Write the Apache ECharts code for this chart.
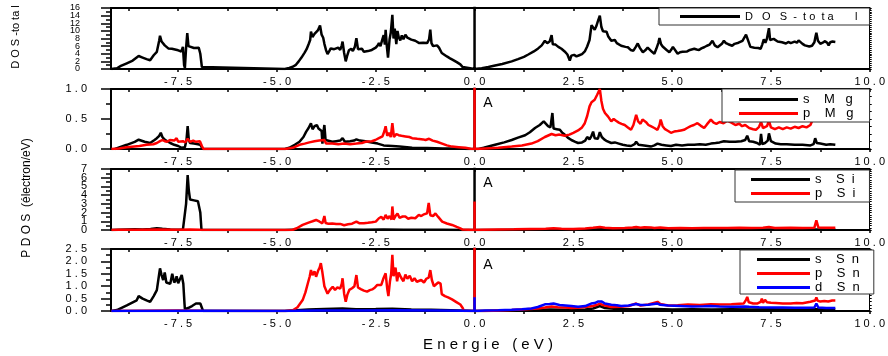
<!DOCTYPE html>
<html><head><meta charset="utf-8">
<script src="https://cdn.jsdelivr.net/npm/echarts@6/dist/echarts.min.js"></script>
<style>html,body{margin:0;padding:0;background:#fff}#c{width:888px;height:356px}</style>
</head><body><div id="c"></div>
<script>
// ---------- data (energy in eV, DOS in states/eV) ----------
const xTickValues = [-8.75,-7.5,-6.25,-5,-3.75,-2.5,-1.25,0,1.25,2.5,3.75,5,6.25,7.5,8.75,10];
const xLabelValues = [-7.5,-5,-2.5,0,2.5,5,7.5,10];

const dosTotal = [[-9.19,0],[-9.05,0.2],[-8.95,0.8],[-8.8,1.5],[-8.65,2.2],[-8.5,3.4],[-8.4,3.0],[-8.3,2.6],[-8.21,2.3],[-8.12,3.6],[-8.04,4.5],[-7.98,7.5],[-7.96,8.7],[-7.92,7.2],[-7.88,7.6],[-7.84,6.2],[-7.8,6.4],[-7.75,5.4],[-7.7,5.8],[-7.66,5.3],[-7.62,5.5],[-7.58,5.1],[-7.54,5.6],[-7.5,4.9],[-7.46,5.3],[-7.42,4.6],[-7.38,5.8],[-7.35,1.0],[-7.33,0.3],[-7.3,5.5],[-7.27,9.4],[-7.24,6.0],[-7.2,5.6],[-7.1,5.5],[-7.05,5.7],[-6.98,5.6],[-6.94,4.0],[-6.9,0.5],[-6.86,0],
[-4.8,0],[-4.69,0.3],[-4.6,0.6],[-4.52,1.1],[-4.45,2.0],[-4.38,3.0],[-4.3,4.3],[-4.25,5.2],[-4.2,6.5],[-4.16,7.6],[-4.14,9.8],[-4.1,8.4],[-4.05,9.2],[-4.0,8.7],[-3.96,10.2],[-3.91,11.4],[-3.87,9.0],[-3.83,8.2],[-3.8,6.6],[-3.76,5.0],[-3.72,3.9],[-3.68,4.6],[-3.64,5.4],[-3.6,4.9],[-3.55,5.2],[-3.5,4.7],[-3.45,5.6],[-3.4,5.0],[-3.36,6.2],[-3.34,7.2],[-3.3,4.2],[-3.26,2.0],[-3.22,3.6],[-3.18,4.9],[-3.12,5.3],[-3.08,4.7],[-3.03,5.8],[-2.99,8.1],[-2.95,5.2],[-2.9,4.9],[-2.85,5.3],[-2.8,4.5],[-2.75,4.3],[-2.7,4.7],[-2.65,4.5],[-2.6,5.0],[-2.55,4.8],[-2.5,5.6],[-2.45,6.2],[-2.42,6.8],[-2.38,6.0],[-2.34,7.5],[-2.3,8.9],[-2.27,6.4],[-2.25,10.3],[-2.22,6.0],[-2.19,3.0],[-2.15,7.8],[-2.12,9.5],[-2.08,14.2],[-2.05,8.0],[-2.02,10.6],[-1.98,6.5],[-1.95,10.0],[-1.92,8.4],[-1.88,7.5],[-1.84,8.8],[-1.8,7.8],[-1.75,9.0],[-1.7,8.2],[-1.65,8.6],[-1.6,7.7],[-1.55,8.0],[-1.5,7.4],[-1.45,7.8],[-1.4,6.8],[-1.35,7.3],[-1.3,6.9],[-1.25,7.4],[-1.2,6.8],[-1.15,7.8],[-1.12,10.3],[-1.09,6.8],[-1.05,6.0],[-1.0,5.9],[-0.95,6.2],[-0.9,5.6],[-0.86,5.9],[-0.83,4.2],[-0.78,3.7],[-0.7,3.3],[-0.62,2.8],[-0.55,2.4],[-0.45,1.8],[-0.36,1.2],[-0.3,0.5],[-0.26,0],
[0,0],[0,100],[0,0],
[0.05,0],[0.18,0.2],[0.35,0.5],[0.52,0.9],[0.7,1.3],[0.94,2.0],[1.1,2.6],[1.25,3.2],[1.36,3.8],[1.5,4.6],[1.61,5.4],[1.7,6.2],[1.78,7.4],[1.84,6.8],[1.9,7.2],[1.95,8.9],[1.98,6.5],[2.05,6.4],[2.12,5.8],[2.2,5.3],[2.28,4.6],[2.35,3.8],[2.41,2.2],[2.45,3.5],[2.52,3.7],[2.58,3.3],[2.65,3.6],[2.72,3.9],[2.79,4.6],[2.85,5.9],[2.91,7.6],[2.96,11.5],[3.0,12.0],[3.04,10.3],[3.08,11.2],[3.12,12.5],[3.17,14.0],[3.21,11.0],[3.25,9.9],[3.3,9.4],[3.34,9.8],[3.38,8.6],[3.42,8.0],[3.46,7.4],[3.5,7.9],[3.55,7.6],[3.6,6.8],[3.65,6.4],[3.71,6.1],[3.76,6.6],[3.82,5.8],[3.88,5.7],[3.95,5.0],[4.02,4.8],[4.08,5.8],[4.13,6.7],[4.18,5.6],[4.22,5.0],[4.26,4.4],[4.32,4.9],[4.38,5.6],[4.43,5.3],[4.49,4.5],[4.55,4.0],[4.6,5.3],[4.65,6.8],[4.68,8.1],[4.72,6.5],[4.76,5.9],[4.8,5.6],[4.86,5.0],[4.93,4.4],[4.98,5.1],[5.02,5.8],[5.06,5.3],[5.1,4.6],[5.14,4.0],[5.2,4.4],[5.26,4.5],[5.31,4.8],[5.38,4.6],[5.45,5.0],[5.5,4.8],[5.56,5.3],[5.62,5.1],[5.68,5.0],[5.74,5.4],[5.81,5.7],[5.88,6.1],[5.95,6.4],[6.02,7.4],[6.08,6.2],[6.15,5.7],[6.2,6.0],[6.26,6.6],[6.31,7.4],[6.36,6.8],[6.42,6.5],[6.47,6.9],[6.52,6.1],[6.58,6.6],[6.63,6.4],[6.68,6.9],[6.73,7.0],[6.78,7.4],[6.83,7.8],[6.87,9.0],[6.9,9.5],[6.94,7.0],[6.98,5.8],[7.03,5.3],[7.08,5.6],[7.13,5.2],[7.18,5.5],[7.24,5.3],[7.28,6.4],[7.32,7.8],[7.36,6.9],[7.4,8.0],[7.45,10.7],[7.48,7.6],[7.52,7.3],[7.57,7.9],[7.62,7.8],[7.67,7.2],[7.72,7.6],[7.78,7.0],[7.83,7.0],[7.88,6.7],[7.94,7.1],[8.0,6.8],[8.04,7.0],[8.1,7.2],[8.16,6.9],[8.2,7.5],[8.24,7.3],[8.3,6.6],[8.36,6.2],[8.41,5.7],[8.47,5.9],[8.54,6.1],[8.6,7.0],[8.63,8.6],[8.65,9.5],[8.69,7.4],[8.75,6.6],[8.81,6.9],[8.87,7.3],[8.93,6.8],[8.96,6.2],[9.0,7.0],[9.06,7.2],[9.1,6.9],[9.13,7.1]];

const sMg = [[-9.1,0],[-9.05,0.02],[-8.8,0.07],[-8.6,0.12],[-8.5,0.155],[-8.35,0.12],[-8.21,0.1],[-8.1,0.15],[-8.04,0.18],[-7.98,0.22],[-7.94,0.27],[-7.9,0.2],[-7.85,0.16],[-7.78,0.13],[-7.7,0.1],[-7.6,0.07],[-7.5,0.05],[-7.41,0.02],[-7.33,0.03],[-7.29,0.15],[-7.26,0.38],[-7.23,0.15],[-7.2,0.1],[-7.1,0.09],[-7.0,0.08],[-6.94,0.07],[-6.88,0],
[-4.8,0],[-4.69,0.02],[-4.55,0.07],[-4.43,0.12],[-4.33,0.2],[-4.26,0.29],[-4.2,0.35],[-4.14,0.43],[-4.1,0.33],[-4.05,0.38],[-3.99,0.4],[-3.95,0.34],[-3.9,0.37],[-3.87,0.3],[-3.85,0.09],[-3.82,0.3],[-3.8,0.4],[-3.77,0.15],[-3.72,0.13],[-3.6,0.12],[-3.5,0.13],[-3.4,0.14],[-3.34,0.18],[-3.28,0.12],[-3.15,0.13],[-3.05,0.14],[-2.99,0.16],[-2.9,0.14],[-2.76,0.13],[-2.6,0.11],[-2.45,0.09],[-2.3,0.06],[-2.08,0.05],[-1.9,0.04],[-1.58,0.02],[-1.2,0.015],[-0.8,0.01],[-0.3,0.01],[-0.2,0],
[0,0],[0,100],[0,0],
[0.1,0],[0.23,0.02],[0.52,0.07],[0.75,0.11],[0.94,0.15],[1.1,0.19],[1.28,0.23],[1.4,0.28],[1.53,0.35],[1.65,0.4],[1.75,0.46],[1.8,0.43],[1.86,0.38],[1.92,0.36],[1.97,0.6],[2.0,0.34],[2.08,0.33],[2.16,0.32],[2.22,0.27],[2.28,0.24],[2.36,0.19],[2.45,0.15],[2.55,0.12],[2.62,0.1],[2.72,0.11],[2.8,0.14],[2.85,0.2],[2.91,0.16],[2.96,0.22],[3.0,0.29],[3.04,0.18],[3.08,0.21],[3.12,0.17],[3.17,0.28],[3.22,0.2],[3.28,0.16],[3.35,0.13],[3.46,0.1],[3.55,0.11],[3.65,0.09],[3.75,0.07],[3.85,0.06],[3.96,0.05],[4.05,0.08],[4.09,0.12],[4.15,0.07],[4.29,0.06],[4.38,0.05],[4.46,0.04],[4.55,0.06],[4.63,0.09],[4.68,0.12],[4.73,0.07],[4.85,0.06],[4.97,0.05],[5.1,0.07],[5.25,0.06],[5.4,0.07],[5.56,0.07],[5.7,0.08],[5.85,0.07],[5.98,0.09],[6.1,0.1],[6.2,0.11],[6.31,0.13],[6.45,0.12],[6.6,0.12],[6.75,0.13],[6.85,0.15],[6.9,0.22],[6.95,0.13],[7.05,0.12],[7.15,0.1],[7.22,0.07],[7.25,0.25],[7.28,0.08],[7.35,0.1],[7.42,0.14],[7.45,0.26],[7.5,0.13],[7.55,0.11],[7.62,0.09],[7.75,0.08],[7.9,0.08],[8.1,0.07],[8.3,0.07],[8.5,0.06],[8.58,0.08],[8.62,0.18],[8.66,0.1],[8.75,0.09],[8.9,0.07],[9.0,0.08],[9.13,0.07]];

const pMg = [[-9.19,0],[-9.0,0.01],[-8.8,0.03],[-8.48,0.05],[-8.3,0.07],[-8.13,0.08],[-8.04,0.1],[-7.96,0.13],[-7.9,0.15],[-7.84,0.13],[-7.78,0.12],[-7.71,0.15],[-7.66,0.12],[-7.6,0.14],[-7.54,0.18],[-7.5,0.12],[-7.45,0.15],[-7.38,0.13],[-7.32,0.11],[-7.26,0.17],[-7.2,0.12],[-7.12,0.14],[-7.05,0.12],[-6.95,0.13],[-6.9,0.05],[-6.86,0],
[-4.8,0],[-4.6,0.02],[-4.43,0.07],[-4.3,0.09],[-4.18,0.11],[-4.05,0.13],[-3.93,0.14],[-3.8,0.15],[-3.76,0.09],[-3.6,0.09],[-3.45,0.08],[-3.3,0.09],[-3.15,0.08],[-2.99,0.09],[-2.85,0.1],[-2.76,0.12],[-2.6,0.13],[-2.51,0.15],[-2.42,0.18],[-2.33,0.21],[-2.28,0.3],[-2.25,0.38],[-2.21,0.22],[-2.17,0.27],[-2.12,0.2],[-2.08,0.43],[-2.04,0.2],[-1.98,0.25],[-1.92,0.23],[-1.85,0.22],[-1.75,0.21],[-1.65,0.2],[-1.58,0.18],[-1.45,0.17],[-1.3,0.16],[-1.24,0.15],[-1.15,0.17],[-1.12,0.2],[-1.06,0.14],[-0.95,0.12],[-0.82,0.09],[-0.7,0.06],[-0.57,0.04],[-0.4,0.03],[-0.23,0.02],[-0.1,0.005],
[0,0],[0,100],[0,0],
[0.27,0.01],[0.6,0.02],[0.94,0.04],[1.2,0.06],[1.44,0.09],[1.6,0.13],[1.78,0.2],[1.95,0.25],[2.05,0.23],[2.15,0.24],[2.28,0.22],[2.4,0.24],[2.5,0.27],[2.62,0.31],[2.72,0.36],[2.79,0.43],[2.85,0.55],[2.91,0.71],[2.96,0.78],[3.04,0.82],[3.1,0.9],[3.17,1.0],[3.21,0.8],[3.25,0.67],[3.3,0.6],[3.38,0.54],[3.46,0.46],[3.52,0.5],[3.58,0.47],[3.65,0.44],[3.72,0.42],[3.8,0.4],[3.88,0.36],[3.96,0.32],[4.02,0.4],[4.09,0.57],[4.14,0.46],[4.2,0.42],[4.25,0.49],[4.29,0.52],[4.35,0.44],[4.4,0.4],[4.46,0.38],[4.55,0.35],[4.63,0.32],[4.68,0.4],[4.71,0.49],[4.76,0.38],[4.82,0.33],[4.9,0.3],[4.97,0.27],[5.05,0.29],[5.14,0.3],[5.22,0.31],[5.3,0.32],[5.38,0.35],[5.47,0.38],[5.55,0.4],[5.64,0.43],[5.72,0.39],[5.81,0.35],[5.88,0.41],[5.98,0.49],[6.05,0.44],[6.12,0.42],[6.2,0.45],[6.3,0.43],[6.4,0.47],[6.5,0.44],[6.6,0.4],[6.7,0.42],[6.77,0.38],[6.85,0.4],[6.95,0.35],[7.05,0.33],[7.12,0.32],[7.2,0.37],[7.25,0.45],[7.3,0.35],[7.4,0.38],[7.45,0.47],[7.5,0.36],[7.6,0.33],[7.7,0.36],[7.8,0.33],[7.9,0.36],[8.0,0.34],[8.1,0.37],[8.2,0.35],[8.3,0.38],[8.4,0.36],[8.5,0.4],[8.55,0.48],[8.58,0.57],[8.62,0.5],[8.7,0.5],[8.8,0.52],[8.9,0.5],[9.0,0.55],[9.13,0.52]];

const sSi = [[-9.19,0],[-9.0,0.03],[-8.8,0.06],[-8.6,0.08],[-8.4,0.07],[-8.2,0.12],[-8.04,0.2],[-7.9,0.14],[-7.7,0.06],[-7.5,0.04],[-7.38,0.05],[-7.33,0.1],[-7.3,3.0],[-7.26,6.3],[-7.23,4.5],[-7.2,3.5],[-7.15,3.3],[-7.1,3.4],[-7.05,3.2],[-7.0,3.3],[-6.97,3.5],[-6.94,2.0],[-6.91,0],
[-4.8,0],[-4.6,0.02],[-4.2,0.05],[-3.8,0.06],[-3.3,0.05],[-2.8,0.04],[-2.3,0.05],[-1.8,0.04],[-1.3,0.03],[-0.8,0.02],[-0.3,0.01],[-0.1,0],
[0,0],[0,100],[0,0],
[0.1,0],[0.5,0.01],[1.0,0.03],[1.5,0.05],[2.0,0.07],[2.5,0.05],[3.0,0.07],[3.2,0.1],[3.5,0.06],[4.0,0.05],[4.5,0.06],[5.0,0.05],[5.5,0.06],[6.0,0.05],[6.5,0.06],[7.0,0.06],[7.5,0.05],[8.0,0.06],[8.5,0.05],[9.13,0.05]];

const pSi = [[-9.19,0],[-9.0,0.02],[-8.5,0.04],[-8.0,0.05],[-7.5,0.04],[-7.2,0.05],[-6.95,0.04],[-6.9,0],
[-4.8,0],[-4.6,0.03],[-4.5,0.2],[-4.35,0.58],[-4.2,0.85],[-4.1,1.0],[-4.01,1.15],[-3.92,0.95],[-3.85,0.77],[-3.8,1.6],[-3.77,0.8],[-3.7,0.72],[-3.6,0.75],[-3.5,0.68],[-3.4,0.7],[-3.3,0.55],[-3.26,0.38],[-3.2,0.65],[-3.1,0.72],[-3.05,0.8],[-2.99,0.96],[-2.92,0.78],[-2.8,0.77],[-2.7,0.82],[-2.6,0.88],[-2.5,0.96],[-2.42,1.35],[-2.36,1.5],[-2.3,1.2],[-2.25,1.73],[-2.2,1.3],[-2.15,1.6],[-2.1,1.2],[-2.08,2.7],[-2.05,1.2],[-2.0,1.6],[-1.95,1.9],[-1.9,1.4],[-1.82,1.55],[-1.75,1.54],[-1.68,1.3],[-1.6,1.4],[-1.5,1.35],[-1.41,1.73],[-1.35,1.6],[-1.28,1.8],[-1.2,1.92],[-1.16,3.1],[-1.12,1.7],[-1.05,1.6],[-0.99,1.9],[-0.92,1.5],[-0.82,0.96],[-0.7,0.75],[-0.57,0.58],[-0.45,0.35],[-0.36,0.19],[-0.3,0.05],[-0.25,0],
[0,0],[0,3.27],[0,0],
[0.2,0.02],[0.6,0.05],[1.0,0.08],[1.4,0.12],[1.8,0.15],[2.0,0.2],[2.2,0.15],[2.5,0.12],[2.8,0.18],[3.0,0.25],[3.17,0.35],[3.3,0.25],[3.5,0.2],[3.8,0.22],[4.0,0.3],[4.09,0.35],[4.2,0.27],[4.3,0.32],[4.46,0.3],[4.55,0.22],[4.7,0.28],[4.9,0.2],[5.2,0.22],[5.5,0.2],[5.8,0.22],[6.1,0.24],[6.4,0.22],[6.7,0.25],[7.0,0.22],[7.3,0.25],[7.45,0.35],[7.6,0.24],[8.0,0.25],[8.3,0.24],[8.6,0.27],[8.65,1.1],[8.7,0.3],[8.9,0.26],[9.13,0.25]];

const sSn = [[-9.19,0],[-9.05,0.04],[-8.8,0.23],[-8.55,0.43],[-8.5,0.6],[-8.4,0.5],[-8.3,0.43],[-8.21,0.37],[-8.12,0.6],[-8.04,0.84],[-7.98,1.5],[-7.96,1.72],[-7.92,1.45],[-7.88,1.25],[-7.84,1.55],[-7.8,1.15],[-7.75,1.2],[-7.7,1.1],[-7.65,1.5],[-7.6,1.15],[-7.56,1.25],[-7.54,1.4],[-7.5,1.12],[-7.46,1.2],[-7.41,1.45],[-7.37,1.1],[-7.34,0.3],[-7.33,0.07],[-7.25,0.12],[-7.15,0.2],[-7.05,0.3],[-7.0,0.37],[-6.94,0.3],[-6.87,0],
[-4.8,0],[-4.6,0.02],[-4.2,0.06],[-3.8,0.08],[-3.34,0.1],[-3.0,0.07],[-2.5,0.08],[-2.08,0.09],[-1.6,0.06],[-1.1,0.05],[-0.6,0.03],[-0.2,0.01],
[0,0],[0,100],[0,0],
[0.2,0],[0.8,0.02],[1.5,0.04],[1.9,0.06],[2.3,0.05],[2.8,0.06],[3.0,0.1],[3.17,0.2],[3.3,0.12],[3.6,0.08],[4.0,0.07],[4.6,0.08],[5.0,0.06],[5.5,0.07],[6.0,0.06],[6.5,0.07],[7.0,0.06],[7.5,0.07],[8.0,0.06],[8.6,0.07],[9.13,0.06]];

const pSn = [[-9.19,0],[-8.5,0.01],[-7.5,0.02],[-6.9,0.01],[-4.8,0],[-4.6,0.03],[-4.48,0.15],[-4.35,0.44],[-4.28,0.75],[-4.22,1.11],[-4.17,1.4],[-4.14,1.65],[-4.1,1.45],[-4.05,1.6],[-4.01,1.38],[-3.96,1.62],[-3.92,1.75],[-3.89,1.93],[-3.85,1.55],[-3.8,1.0],[-3.76,0.85],[-3.72,0.7],[-3.66,0.85],[-3.59,0.98],[-3.53,0.85],[-3.47,0.95],[-3.4,0.9],[-3.36,1.1],[-3.34,1.32],[-3.3,0.7],[-3.26,0.37],[-3.22,0.65],[-3.17,0.85],[-3.1,0.92],[-3.04,1.0],[-2.99,1.45],[-2.95,0.95],[-2.88,0.88],[-2.8,0.82],[-2.72,0.78],[-2.65,0.84],[-2.59,0.87],[-2.52,0.95],[-2.46,1.05],[-2.42,1.13],[-2.36,1.05],[-2.31,1.3],[-2.25,1.52],[-2.21,0.9],[-2.18,0.6],[-2.14,1.2],[-2.11,1.5],[-2.08,2.27],[-2.05,1.4],[-2.0,1.75],[-1.96,1.2],[-1.92,1.55],[-1.86,1.35],[-1.8,1.2],[-1.75,1.47],[-1.7,1.3],[-1.64,1.42],[-1.58,1.2],[-1.52,1.32],[-1.46,1.18],[-1.41,1.2],[-1.35,1.25],[-1.28,1.15],[-1.22,1.3],[-1.16,1.35],[-1.12,1.65],[-1.08,1.25],[-1.03,1.0],[-0.98,1.05],[-0.92,1.15],[-0.86,1.1],[-0.83,0.68],[-0.75,0.6],[-0.67,0.55],[-0.57,0.47],[-0.46,0.36],[-0.36,0.26],[-0.3,0.12],[-0.27,0.0],
[0,0],[0,100],[0,0],
[0.27,0],[0.6,0.02],[0.94,0.04],[1.3,0.07],[1.6,0.1],[1.78,0.14],[1.95,0.18],[2.1,0.15],[2.3,0.14],[2.45,0.12],[2.62,0.13],[2.8,0.16],[3.0,0.2],[3.1,0.25],[3.17,0.3],[3.25,0.24],[3.46,0.16],[3.7,0.17],[3.9,0.2],[4.09,0.3],[4.2,0.22],[4.4,0.26],[4.63,0.37],[4.7,0.28],[4.9,0.22],[5.14,0.23],[5.4,0.26],[5.7,0.24],[5.98,0.27],[6.2,0.26],[6.5,0.27],[6.81,0.3],[6.87,0.45],[6.9,0.57],[6.94,0.35],[7.05,0.3],[7.15,0.3],[7.24,0.37],[7.27,0.5],[7.3,0.33],[7.35,0.45],[7.4,0.35],[7.5,0.33],[7.62,0.32],[7.8,0.3],[8.0,0.3],[8.15,0.32],[8.3,0.31],[8.5,0.37],[8.62,0.42],[8.65,0.55],[8.68,0.42],[8.75,0.38],[8.85,0.4],[8.95,0.38],[9.05,0.42],[9.13,0.42]];

const dSn = [[-9.19,0],[-7,0.01],[-4.8,0],[-4.0,0.02],[-3.0,0.02],[-2.0,0.03],[-1.0,0.02],[-0.2,0.01],
[0,0],[0,0.55],[0,0],
[0.27,0.02],[0.6,0.03],[0.94,0.05],[1.2,0.07],[1.44,0.1],[1.6,0.16],[1.78,0.27],[1.9,0.28],[1.95,0.35],[2.0,0.3],[2.15,0.24],[2.3,0.22],[2.45,0.2],[2.62,0.17],[2.8,0.2],[2.95,0.3],[3.04,0.32],[3.12,0.38],[3.17,0.46],[3.22,0.38],[3.3,0.3],[3.46,0.25],[3.6,0.23],[3.71,0.2],[3.9,0.22],[4.09,0.28],[4.2,0.24],[4.4,0.25],[4.63,0.3],[4.7,0.25],[4.9,0.22],[5.2,0.2],[5.5,0.18],[5.8,0.19],[5.98,0.2],[6.2,0.18],[6.5,0.17],[6.85,0.18],[6.9,0.25],[6.95,0.17],[7.2,0.15],[7.5,0.14],[7.8,0.14],[8.1,0.13],[8.4,0.13],[8.6,0.14],[8.65,0.3],[8.7,0.14],[8.9,0.12],[9.13,0.12]];

// ---------- layout ----------
const FONT = "'Liberation Sans', Arial, sans-serif";
const spaced = s => String(s).split('').join(' ');
const panels = [
  {top: 8, height: 61, yMax: 16, yInt: 2, fmt: v => String(v), ySize: 9, yFont: "'Liberation Sans Narrow', 'Liberation Sans', sans-serif", yMargin: 31},
  {top: 89, height: 60, yMax: 1, yInt: 0.5, fmt: v => spaced(v.toFixed(1)), ySize: 11, yFont: FONT, yMargin: 24},
  {top: 169, height: 61, yMax: 7, yInt: 1, fmt: v => String(v), ySize: 11, yFont: FONT, yMargin: 24},
  {top: 249, height: 62, yMax: 2.5, yInt: 0.5, fmt: v => spaced(v.toFixed(1)), ySize: 11, yFont: FONT, yMargin: 24}
];
const X_MIN = -9.2, X_MAX = 10;

const grid = [], xAxis = [], yAxis = [];
panels.forEach((p, i) => {
  grid.push({left: 111, right: 15, top: p.top, height: p.height});
  xAxis.push({type: 'value', gridIndex: i, min: X_MIN, max: X_MAX, position: 'bottom',
    axisLine: {onZero: false, lineStyle: {color: '#000', width: 2}},
    axisTick: {customValues: xTickValues, length: 3, lineStyle: {color: '#000', width: 1.5}},
    axisLabel: {customValues: xLabelValues, formatter: v => spaced(v.toFixed(1)), color: '#000', fontSize: 11, fontFamily: FONT, margin: 7, showMinLabel: true, showMaxLabel: true, hideOverlap: false},
    splitLine: {show: false}});
  xAxis.push({type: 'value', gridIndex: i, min: X_MIN, max: X_MAX, position: 'top',
    axisLine: {onZero: false, lineStyle: {color: '#000', width: 2}},
    axisTick: {customValues: xTickValues, inside: true, length: 3, lineStyle: {color: '#000', width: 1.5}},
    axisLabel: {show: false}, splitLine: {show: false}});
  const lbl = {formatter: p.fmt, color: '#000', fontSize: p.ySize, fontFamily: p.yFont, margin: p.yMargin, hideOverlap: false};
  // left axis: line, ticks, inner labels (end labels drawn by the helper axis below)
  yAxis.push({type: 'value', gridIndex: i, min: 0, max: p.yMax, interval: p.yInt, position: 'left',
    axisLine: {show: true, onZero: false, lineStyle: {color: '#000', width: 2}},
    axisTick: {show: true, length: 10, lineStyle: {color: '#000', width: 1.5}},
    minorTick: {show: true, splitNumber: 2, length: 5, lineStyle: {color: '#000', width: 1.5}},
    axisLabel: Object.assign({}, lbl, {showMinLabel: false, showMaxLabel: false}),
    splitLine: {show: false}, minorSplitLine: {show: false}});
  yAxis.push({type: 'value', gridIndex: i, min: 0, max: p.yMax, interval: p.yInt, position: 'right',
    axisLine: {show: true, onZero: false, lineStyle: {color: '#000', width: 1}},
    axisTick: {show: true, length: 2, lineStyle: {color: '#000', width: 1}},
    minorTick: {show: true, splitNumber: 4, length: 2, lineStyle: {color: '#000', width: 1}},
    axisLabel: {show: false}, splitLine: {show: false}});
  // helper left axis carrying only the end labels (0 and max)
  yAxis.push({type: 'value', gridIndex: i, min: 0, max: p.yMax, position: 'left', offset: 0,
    axisLine: {show: false}, axisTick: {show: false},
    axisLabel: Object.assign({}, lbl, {customValues: [0, p.yMax], showMinLabel: true, showMaxLabel: true}),
    splitLine: {show: false}});
});

const mk = (name, data, i, color) => ({name, type: 'line', data, xAxisIndex: i * 2, yAxisIndex: i * 3,
  showSymbol: false, symbol: 'none', clip: true, animation: false,
  lineStyle: {color, width: 2.5}, itemStyle: {color}});
const series = [
  mk('DOS-total', dosTotal, 0, '#000'),
  mk('s Mg', sMg, 1, '#000'), mk('p Mg', pMg, 1, '#ff0000'),
  mk('s Si', sSi, 2, '#000'), mk('p Si', pSi, 2, '#ff0000'),
  mk('s Sn', sSn, 3, '#000'), mk('p Sn', pSn, 3, '#ff0000'), mk('d Sn', dSn, 3, '#0000ff')
];

const legendText = {
  'DOS-total': 'D   O   S  -  t o  t a       l',
  's Mg': 's    M   g', 'p Mg': 'p    M   g',
  's Si': 's    S  i', 'p Si': 'p    S  i',
  's Sn': 's    S  n', 'p Sn': 'p    S  n', 'd Sn': 'd    S  n'
};
const lg = (data, left, top, pad, iw, fs) => ({
  data: data.map(n => ({name: n, icon: 'rect'})), left, top, orient: 'vertical',
  itemWidth: iw, itemHeight: 3, itemGap: 1, padding: pad,
  borderColor: '#333', borderWidth: 1, backgroundColor: '#fff', borderRadius: 0,
  textStyle: {color: '#000', fontSize: fs, fontFamily: FONT, lineHeight: 13},
  formatter: n => legendText[n], selectedMode: false, z: 10
});
const legend = [
  lg(['DOS-total'], 659, 8, [2, 12, 2, 21], 60, 11),
  lg(['s Mg', 'p Mg'], 722, 89, [4, 16, 2, 17], 59, 13),
  lg(['s Si', 'p Si'], 735, 170, [3, 14, 2, 16], 59, 13),
  lg(['s Sn', 'p Sn', 'd Sn'], 740, 250, [3, 14, 0, 17], 53, 13)
];

const txt = (text, x, y, size, rot) => ({type: 'text', x, y, rotation: rot || 0, z: 20,
  style: {text, fill: '#000', font: size + 'px ' + FONT, textAlign: 'center', textVerticalAlign: 'middle', align: 'center', verticalAlign: 'middle'}});
const graphic = [
  txt('D O S -to ta l', 16, 37, 11, Math.PI / 2),
  txt('P D O S  (électron/eV)', 27, 198, 12, Math.PI / 2),
  txt('E n e r g i e   ( e V )', 488, 345, 15),
  txt('A', 488, 103, 14), txt('A', 488, 183, 14), txt('A', 488, 265, 14)
];

const chart = echarts.init(document.getElementById('c'), null, {renderer: 'canvas'});
chart.setOption({backgroundColor: '#fff', animation: false, grid, xAxis, yAxis, series, legend, graphic});
</script></body></html>
